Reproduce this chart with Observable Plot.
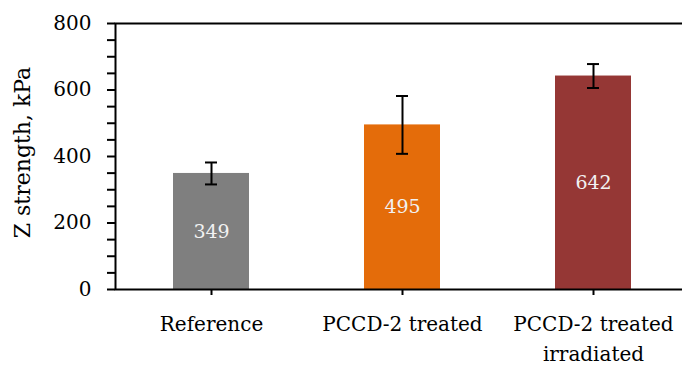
<!DOCTYPE html>
<html><head><meta charset="utf-8">
<script src="https://cdn.jsdelivr.net/npm/d3@7"></script>
<script src="https://cdn.jsdelivr.net/npm/@observablehq/plot@0.6"></script>
<style>body{margin:0;background:#fff}</style>
</head><body><div id="chart"></div>
<script>
const categories = ["Reference", "PCCD-2 treated", "PCCD-2 treated\nirradiated"];
const values = [349, 495, 642];
const errors = [33, 87, 36];
const colors = ["#7F7F7F", "#E46C0A", "#953735"];
const yTicks = [0, 200, 400, 600, 800];
const yMinorTicks = d3.range(0, 801, 50);
const yTitle = "Z strength, kPa";

const data = categories.map((c, i) => ({
  category: c, value: values[i], lo: values[i] - errors[i], hi: values[i] + errors[i]
}));

const chart = Plot.plot({
  width: 682, height: 365,
  marginLeft: 115, marginRight: -3, marginTop: 23, marginBottom: 76,
  style: {fontFamily: "DejaVu Serif", fontSize: "20px", background: "#fff", color: "#000"},
  x: {type: "band", domain: categories, range: [115, 689.5], paddingInner: 0.6, paddingOuter: 0.3},
  y: {domain: [0, 800]},
  color: {domain: categories, range: colors},
  marks: [
    Plot.barY(data, {x: "category", y: "value", fill: "category"}),
    Plot.text(data, {x: "category", y: d => d.value / 2, text: d => String(d.value), fill: "#F2F2F2", fontSize: 19}),
    Plot.ruleX(data, {x: "category", y1: "lo", y2: "hi", stroke: "#000", strokeWidth: 2}),
    Plot.tickY(data, {x: "category", y: "lo", insetLeft: 32, insetRight: 32, stroke: "#000", strokeWidth: 2}),
    Plot.tickY(data, {x: "category", y: "hi", insetLeft: 32, insetRight: 32, stroke: "#000", strokeWidth: 2}),
    Plot.axisY(yMinorTicks, {tickSize: 8, tickFormat: () => "", label: null, strokeWidth: 2}),
    Plot.axisY(yTicks, {tickSize: 0, tickPadding: 24, fontSize: 20, label: null}),
    Plot.axisX({tickSize: 6, tickPadding: 14, fontSize: 20, lineHeight: 1.5, label: null, strokeWidth: 2}),
    Plot.frame({stroke: "#000", strokeWidth: 2}),
    Plot.text([yTitle], {frameAnchor: "left", textAnchor: "middle", rotate: -90, dx: -93, dy: -4, fontSize: 22, lineAnchor: "middle"})
  ]
});
document.getElementById("chart").appendChild(chart);
</script>
</body></html>
